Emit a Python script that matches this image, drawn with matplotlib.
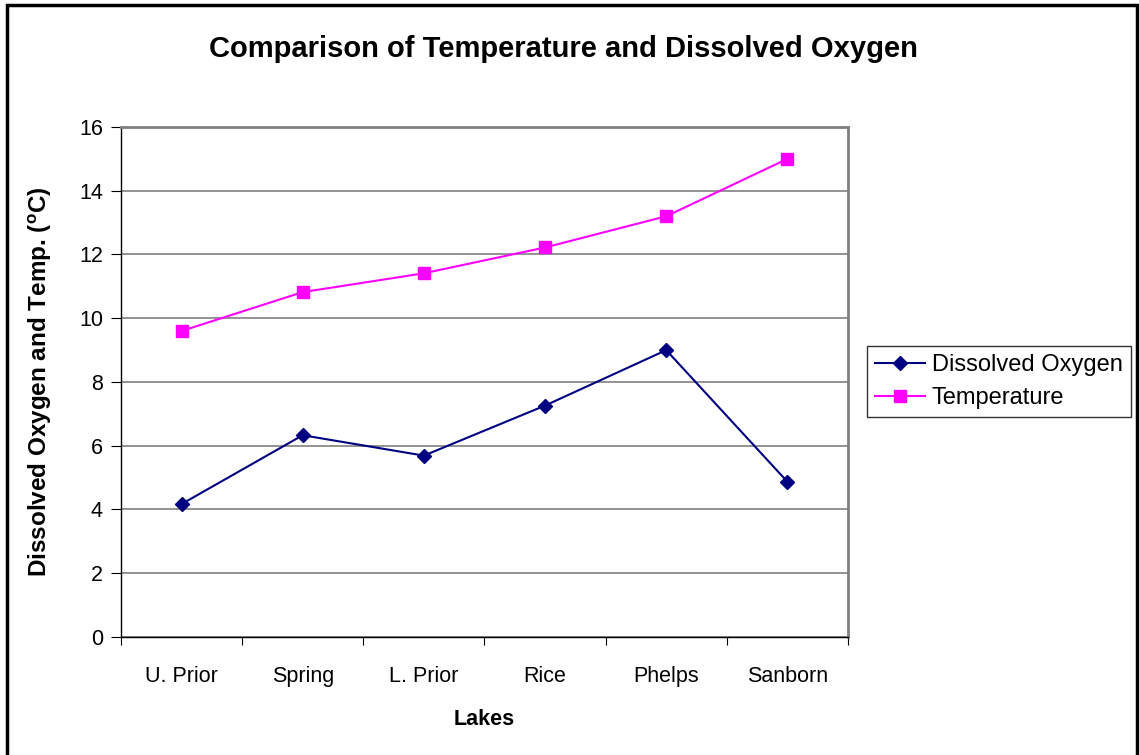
import matplotlib
matplotlib.use("Agg")
import matplotlib.pyplot as plt
from matplotlib.patches import Rectangle
import numpy as np

plt.rcParams['font.family'] = ['Liberation Sans', 'DejaVu Sans']

lakes = ["U. Prior", "Spring", "L. Prior", "Rice", "Phelps", "Sanborn"]
dissolved_oxygen = [4.17, 6.33, 5.69, 7.26, 9.0, 4.87]
temperature = [9.6, 10.82, 11.41, 12.22, 13.2, 15.0]
y_ticks = [0, 2, 4, 6, 8, 10, 12, 14, 16]

fig = plt.figure(figsize=(11.39, 7.55), dpi=100)
ax = fig.add_axes([0.1062, 0.1563, 0.6383, 0.6755])

x = np.arange(len(lakes)) + 0.5
ax.plot(x, dissolved_oxygen, color='#000080', marker='D', markersize=7, lw=1.5,
        label='Dissolved Oxygen', zorder=3)
ax.plot(x, temperature, color='#FF00FF', marker='s', markersize=8, lw=1.5,
        label='Temperature', zorder=3)

ax.set_xlim(0, len(lakes))
ax.set_ylim(0, 16)
ax.set_yticks(y_ticks)
ax.set_yticklabels([str(t) for t in y_ticks], fontsize=15.5)
ax.set_xticks(np.arange(len(lakes) + 1))
ax.set_xticklabels([''] * (len(lakes) + 1))
ax.set_xticks(x, minor=True)
ax.set_xticklabels(lakes, minor=True, fontsize=15.5)
ax.tick_params(axis='x', which='minor', length=0, pad=21)
ax.tick_params(axis='x', which='major', length=6, direction='out', color='#000000')
ax.tick_params(axis='y', length=7, direction='out', pad=6)
ax.yaxis.grid(True, color='#808080', lw=1.2)
ax.set_axisbelow(True)
for s in ['top', 'right']:
    ax.spines[s].set_color('#808080')
    ax.spines[s].set_linewidth(2)
for s in ['left', 'bottom']:
    ax.spines[s].set_color('#000000')
    ax.spines[s].set_linewidth(1)

ax.set_xlabel('Lakes', fontsize=15.5, fontweight='bold', labelpad=16)
ax.set_ylabel('Dissolved Oxygen and Temp. ($^{\\mathregular{o}}$C)', fontsize=17.5,
              fontweight='bold', labelpad=18)

fig.text(0.495, 0.935, 'Comparison of Temperature and Dissolved Oxygen',
         ha='center', va='center', fontsize=21, fontweight='bold')

leg = ax.legend(loc='center left', bbox_to_anchor=(0.7612, 0.4947),
                bbox_transform=fig.transFigure, fontsize=17, frameon=True,
                fancybox=False, edgecolor='#000000', handlelength=2.1,
                borderpad=0.35, labelspacing=0.45, handletextpad=0.3,
                borderaxespad=0)
leg.get_frame().set_linewidth(1)

fig.patches.append(Rectangle((7 / 1139, -0.01), 1130 / 1139, 1 - 5 / 755 + 0.01,
                             transform=fig.transFigure, fill=False,
                             edgecolor='black', lw=2.5))

fig.savefig('out.png', dpi=100)
